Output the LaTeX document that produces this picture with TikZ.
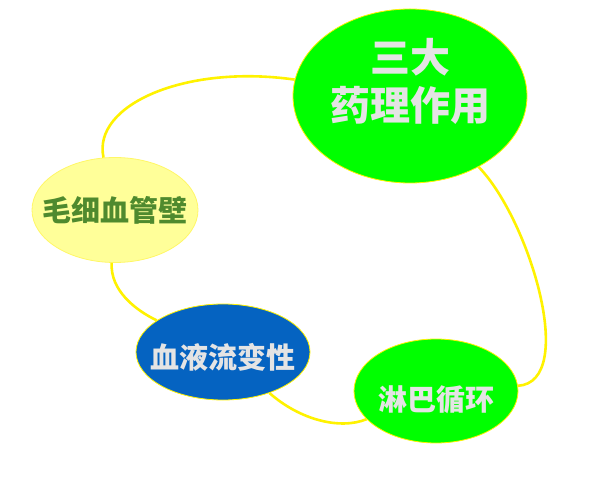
\documentclass[tikz,border=0pt]{standalone}
\usepackage{fontspec}
\newfontfamily\cjk{Noto Sans CJK SC}
\usepackage{tikz}
\usetikzlibrary{shapes.geometric}
\definecolor{lime}{HTML}{00FF00}
\definecolor{paleyellow}{HTML}{FFFF99}
\definecolor{deepblue}{HTML}{0563C1}
\definecolor{olive}{HTML}{4F8A2E}
\definecolor{lightgray}{HTML}{E4E4E4}

\begin{document}
\begin{tikzpicture}[
    x=1pt,y=1pt,
    bubble/.style={ellipse,draw=yellow,line width=0.8pt,inner xsep=-20pt,inner ysep=-4pt,
                   align=center,font=\cjk\bfseries\fontsize{29}{34}\selectfont},
    ring/.style={draw=yellow,line width=2.6pt}
  ]
    \useasboundingbox (0,0) rectangle (607,482);
    \node[bubble,fill=lime,text=lightgray,minimum width=234,minimum height=174,
          font=\cjk\bfseries\fontsize{40}{48}\selectfont,text depth=34pt]
          (yaoli) at (410,386) {三大\\药理作用};
    \node[bubble,fill=paleyellow,draw=yellow!60,text=olive,
          minimum width=166,minimum height=105] (maoxi) at (115,272) {毛细血管壁};
    \node[bubble,fill=deepblue,text=lightgray,text height=33pt,text depth=0pt,
          minimum width=174,minimum height=96] (xueye) at (223,130) {血液流变性};
    \node[bubble,fill=lime,text=lightgray,text height=39pt,text depth=0pt,
          minimum width=164,minimum height=104] (linba) at (436,91) {淋巴循环};
    % ring of links
    \draw[ring] (maoxi) .. controls (92,377) and (185,418) .. (yaoli);
    \draw[ring] (yaoli) .. controls (530,262) and (578,100) .. (linba);
    \draw[ring] (xueye) .. controls (300,62) and (340,52) .. (linba);
    \draw[ring] (maoxi) .. controls (110,192) and (135,172) .. (xueye);
  \end{tikzpicture}
\end{document}
